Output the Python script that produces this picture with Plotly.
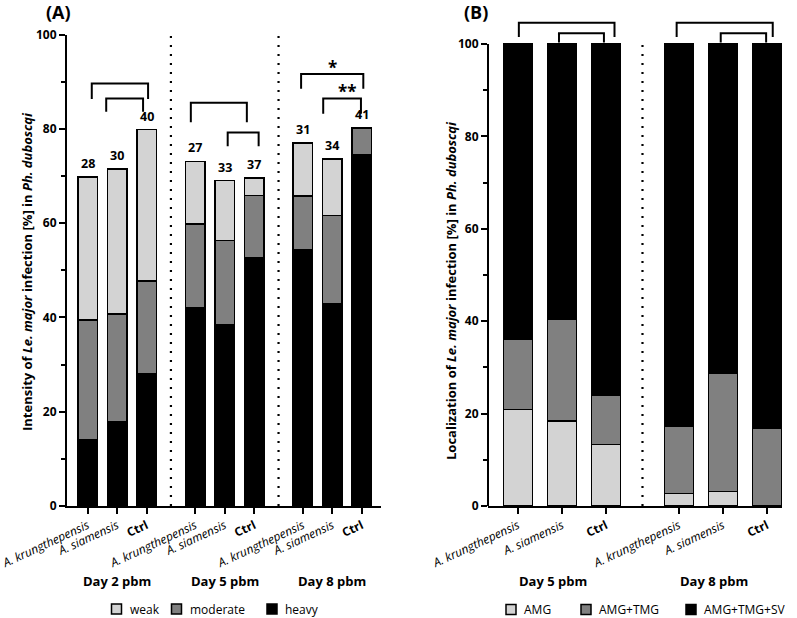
import plotly.graph_objects as go

# ---------------- data ----------------
groups_A = ["Day 2 pbm", "Day 5 pbm", "Day 8 pbm"]
groups_B = ["Day 5 pbm", "Day 8 pbm"]
cat_labels = ["<i>A. krungthepensis</i>", "<i>A. siamensis</i>", "<b>Ctrl</b>"]

heavy_A = [14.0, 17.8, 28.0, 42.1, 38.5, 52.6, 54.4, 42.9, 74.6]
moderate_A = [25.5, 22.9, 19.7, 17.7, 17.8, 13.3, 11.3, 18.7, 5.6]
weak_A = [30.3, 30.8, 32.1, 13.3, 12.7, 3.7, 11.3, 12.0, 0.0]
n_A = [28, 30, 40, 27, 33, 37, 31, 34, 41]

amg_B = [20.9, 18.4, 13.3, 2.7, 3.1, 0.0]
tmg_B = [15.2, 22.0, 10.7, 14.6, 25.7, 16.8]
sv_B = [63.9, 59.6, 76.0, 82.7, 71.2, 83.2]

# ---------------- layout helpers ----------------
W, H = 797, 618
GSTEP = 3.65  # group spacing in bar units
FONT = "Open Sans"


def px(x):
    return x / W


def py(y):
    return 1 - y / H


def positions(ngroups):
    return [g * GSTEP + i for g in range(ngroups) for i in range(3)]


xA = positions(3)
xB = positions(2)

C_LIGHT, C_MID, C_DARK = "#d3d3d3", "#808080", "#000000"

fig = go.Figure()


def add_bar(x, y, color, xa, ya):
    fig.add_trace(go.Bar(
        x=x, y=y, width=0.66, xaxis=xa, yaxis=ya, showlegend=False,
        marker=dict(color=color, line=dict(color="black", width=1.5)),
    ))


add_bar(xA, heavy_A, C_DARK, "x", "y")
add_bar(xA, moderate_A, C_MID, "x", "y")
add_bar(xA, weak_A, C_LIGHT, "x", "y")
add_bar(xB, amg_B, C_LIGHT, "x2", "y2")
add_bar(xB, tmg_B, C_MID, "x2", "y2")
add_bar(xB, sv_B, C_DARK, "x2", "y2")

tickfont = dict(family=FONT, size=12, color="black")
common_x = dict(showline=True, linewidth=2, linecolor="black", ticks="outside",
                ticklen=6, tickwidth=1.5, tickcolor="black", tickangle=-25,
                showgrid=False, zeroline=False, tickfont=tickfont,
                automargin=False, ticklabeloverflow="allow")
common_y = dict(linewidth=2, linecolor="black", ticks="outside", ticklen=6,
                tickwidth=1.5, tickcolor="black", showgrid=False, zeroline=False,
                tickvals=[0, 20, 40, 60, 80, 100], automargin=False,
                tickfont=dict(family=FONT, size=12, color="black", weight="bold"),
                minor=dict(dtick=10, ticks="outside", ticklen=4, tickwidth=1.5,
                           tickcolor="black", showgrid=False))

fig.update_layout(
    width=W, height=H, margin=dict(l=0, r=0, t=0, b=0, autoexpand=False),
    plot_bgcolor="white", paper_bgcolor="white", barmode="stack",
    font=dict(family=FONT, color="black"),
    xaxis=dict(domain=[px(67), px(381)], range=[-0.7, 9.95], tickvals=xA,
               ticktext=cat_labels * 3, anchor="y", **common_x),
    yaxis=dict(domain=[py(506), py(34.5)], range=[0, 100], showline=True,
               anchor="x", **common_y),
    xaxis2=dict(domain=[px(488), px(782)], range=[-0.68, 5.99], tickvals=xB,
                ticktext=cat_labels * 2, anchor="y2", **common_x),
    yaxis2=dict(domain=[py(506), py(506 - 106 * 4.62)], range=[0, 106],
                showline=False, anchor="x2", **common_y),
)

shapes = []
annotations = []


def note(text, x, y, xref="paper", yref="paper", size=12, xanchor="center",
         yanchor="middle", **kw):
    annotations.append(dict(text=text, x=x, y=y, xref=xref, yref=yref,
                            showarrow=False, xanchor=xanchor, yanchor=yanchor,
                            font=dict(size=size, family=FONT, color="black"),
                            **kw))


# B y-axis line only from 0 to 100
shapes.append(dict(type="line", xref="x2 domain", yref="y2", x0=0, x1=0, y0=0,
                   y1=100, line=dict(color="black", width=2)))

# dotted separators
for xa, ya, xs in [("x", "y", xA), ("x2", "y2", xB)]:
    for g in range(len(xs) // 3 - 1):
        xm = (xs[g * 3 + 2] + xs[g * 3 + 3]) / 2
        shapes.append(dict(type="line", xref=xa, yref=ya, x0=xm, x1=xm, y0=0,
                           y1=100, line=dict(color="black", width=2.2,
                                             dash="2px,7px")))

# significance brackets (x0, x1, top, leg bottom)
br_A = [(0.14, 2.05, 89.6, 86.3), (0.63, 1.88, 86.4, 83.6),
        (3.50, 5.40, 85.5, 81.4), (4.75, 5.80, 79.2, 76.3),
        (7.24, 9.35, 91.6, 88.5), (7.99, 9.27, 86.4, 83.2)]
br_B = [(0.02, 2.19, 104.6, 101.5), (0.93, 1.95, 102.3, 100.3),
        (3.60, 5.78, 104.6, 101.5), (4.60, 5.63, 102.3, 100.3)]
for xa, ya, brs in [("x", "y", br_A), ("x2", "y2", br_B)]:
    for x0, x1, yt, yb in brs:
        shapes.append(dict(type="path", xref=xa, yref=ya,
                           path=f"M{x0},{yb} L{x0},{yt} L{x1},{yt} L{x1},{yb}",
                           line=dict(color="black", width=2)))

note("<b>*</b>", 8.30, 90.2, "x", "y", size=17, yanchor="bottom")
note("<b>**</b>", 8.82, 85.0, "x", "y", size=17, yanchor="bottom")

# n labels above bars
for x, h, m, w, n in zip(xA, heavy_A, moderate_A, weak_A, n_A):
    note(f"<b>{n}</b>", x, h + m + w, "x", "y", size=12.5, yanchor="bottom",
         yshift=3)

# group labels
for g, name in enumerate(groups_A):
    note(f"<b>{name}</b>", xA[g * 3 + 1], py(581), "x", "paper", size=13)
for g, name in enumerate(groups_B):
    note(f"<b>{name}</b>", xB[g * 3 + 1] - 0.2, py(581), "x2", "paper", size=13)

# axis titles
note("<b>Intensity of <i>Le. major</i> infection [%] in <i>Ph. duboscqi</i></b>",
     px(27), py(272), size=13, textangle=-90)
note("<b>Localization of <i>Le. major</i> infection [%] in <i>Ph. duboscqi</i></b>",
     px(451), py(290), size=13, textangle=-90)

# panel labels
note("<b>(A)</b>", px(58), py(12), size=18)
note("<b>(B)</b>", px(476), py(12), size=18)

# legends (manual)
leg_A = [("weak", C_LIGHT, 116.5), ("moderate", C_MID, 176.5), ("heavy", C_DARK, 272)]
leg_B = [("AMG", C_LIGHT, 511), ("AMG+TMG", C_MID, 586), ("AMG+TMG+SV", C_DARK, 691)]
for items, yc in [(leg_A, 609), (leg_B, 609.5)]:
    for name, col, xc in items:
        shapes.append(dict(type="rect", xref="paper", yref="paper",
                           x0=px(xc - 5), x1=px(xc + 5), y0=py(yc + 5), y1=py(yc - 5),
                           fillcolor=col, line=dict(color="black", width=1.5)))
        note(name, px(xc + 11), py(yc), xanchor="left", size=12)

fig.update_layout(shapes=shapes, annotations=annotations)
fig.write_html("out.html")
